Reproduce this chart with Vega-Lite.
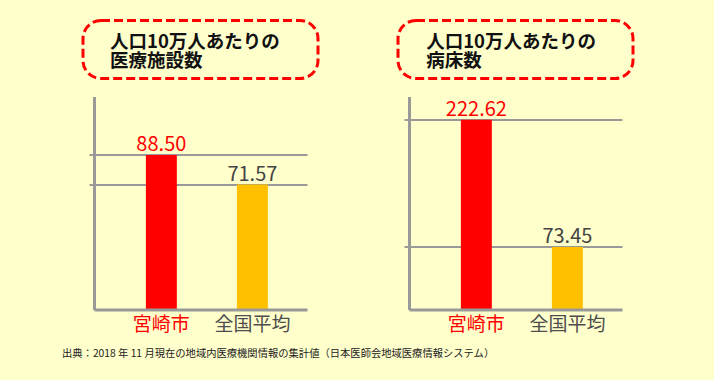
{
  "$schema": "https://vega.github.io/schema/vega-lite/v6.json",
  "background": "#FFFFCC",
  "padding": {"left": 62, "top": 18.5, "right": 90, "bottom": 30},
  "config": {"font": "Noto Sans CJK JP", "view": {"stroke": null}},
  "title": {
    "text": "出典：2018 年 11 月現在の地域内医療機関情報の集計値（日本医師会地域医療情報システム）",
    "orient": "bottom", "anchor": "start", "dx": -19.5, "offset": 14,
    "fontSize": 10.3, "fontWeight": "normal", "font": "Noto Sans CJK JP", "color": "#222222"
  },
  "spacing": 76,
  "hconcat": [
    {
      "spacing": 18, "bounds": "flush", "center": true,
      "vconcat": [
        {
          "width": 235, "height": 58,
          "view": {"stroke": "#FF0000", "strokeWidth": 3, "strokeDash": [9, 4], "cornerRadius": 18},
          "data": {"values": [{"title": "人口10万人あたりの\n医療施設数"}]},
          "mark": {"type": "text", "align": "left", "baseline": "middle", "lineBreak": "\n", "fontSize": 18.5, "fontWeight": "bold", "lineHeight": 19.5, "dy": -8, "color": "#111111"},
          "encoding": {
            "text": {"field": "title"},
            "x": {"field": "title", "type": "nominal", "scale": {"type": "point", "align": 0.115}, "axis": null}
          }
        },
        {
          "width": 213, "height": 213,
          "data": {"values": [{"name": "宮崎市", "value": 88.5}, {"name": "全国平均", "value": 71.57}]},
          "encoding": {
            "x": {"field": "name", "type": "nominal", "sort": null,
              "scale": {"paddingInner": 0.66, "paddingOuter": 0.5, "align": 0.57},
              "axis": {"title": null, "ticks": false, "domainColor": "#999999", "domainWidth": 3, "labelFontSize": 19, "labelPadding": 6, "labelAngle": 0, "zindex": 1,
                "labelColor": {"condition": {"test": "datum.value === '宮崎市'", "value": "#FF0000"}, "value": "#4D4D4D"}}},
            "y": {"field": "value", "type": "quantitative", "scale": {"domain": [0, 122], "nice": false},
              "axis": {"title": null, "values": [71.57, 88.5], "labels": false, "ticks": true, "tickSize": 5, "tickColor": "#999999", "tickWidth": 2, "grid": true, "gridColor": "#999999", "gridWidth": 2, "domainColor": "#999999", "domainWidth": 3}}
          },
          "layer": [
            {"mark": {"type": "bar"}, "encoding": {"color": {"condition": {"test": "datum.name === '宮崎市'", "value": "#FF0000"}, "value": "#FFC000"}}},
            {"mark": {"type": "text", "baseline": "alphabetic", "dy": -4, "fontSize": 20},
              "encoding": {"text": {"field": "value", "type": "quantitative", "format": ".2f"},
                "color": {"condition": {"test": "datum.name === '宮崎市'", "value": "#FF0000"}, "value": "#444444"}}}
          ]
        }
      ]
    },
    {
      "spacing": 18, "bounds": "flush", "center": true,
      "vconcat": [
        {
          "width": 235, "height": 58,
          "view": {"stroke": "#FF0000", "strokeWidth": 3, "strokeDash": [9, 4], "cornerRadius": 18},
          "data": {"values": [{"title": "人口10万人あたりの\n病床数"}]},
          "mark": {"type": "text", "align": "left", "baseline": "middle", "lineBreak": "\n", "fontSize": 18.5, "fontWeight": "bold", "lineHeight": 19.5, "dy": -8, "color": "#111111"},
          "encoding": {
            "text": {"field": "title"},
            "x": {"field": "title", "type": "nominal", "scale": {"type": "point", "align": 0.12}, "axis": null}
          }
        },
        {
          "width": 213, "height": 213,
          "data": {"values": [{"name": "宮崎市", "value": 222.62}, {"name": "全国平均", "value": 73.45}]},
          "encoding": {
            "x": {"field": "name", "type": "nominal", "sort": null,
              "scale": {"paddingInner": 0.66, "paddingOuter": 0.5, "align": 0.57},
              "axis": {"title": null, "ticks": false, "domainColor": "#999999", "domainWidth": 3, "labelFontSize": 19, "labelPadding": 6, "labelAngle": 0, "zindex": 1,
                "labelColor": {"condition": {"test": "datum.value === '宮崎市'", "value": "#FF0000"}, "value": "#4D4D4D"}}},
            "y": {"field": "value", "type": "quantitative", "scale": {"domain": [0, 250], "nice": false},
              "axis": {"title": null, "values": [73.45, 222.62], "labels": false, "ticks": true, "tickSize": 5, "tickColor": "#999999", "tickWidth": 2, "grid": true, "gridColor": "#999999", "gridWidth": 2, "domainColor": "#999999", "domainWidth": 3}}
          },
          "layer": [
            {"mark": {"type": "bar"}, "encoding": {"color": {"condition": {"test": "datum.name === '宮崎市'", "value": "#FF0000"}, "value": "#FFC000"}}},
            {"mark": {"type": "text", "baseline": "alphabetic", "dy": -4, "fontSize": 20},
              "encoding": {"text": {"field": "value", "type": "quantitative", "format": ".2f"},
                "color": {"condition": {"test": "datum.name === '宮崎市'", "value": "#FF0000"}, "value": "#444444"}}}
          ]
        }
      ]
    }
  ]
}
